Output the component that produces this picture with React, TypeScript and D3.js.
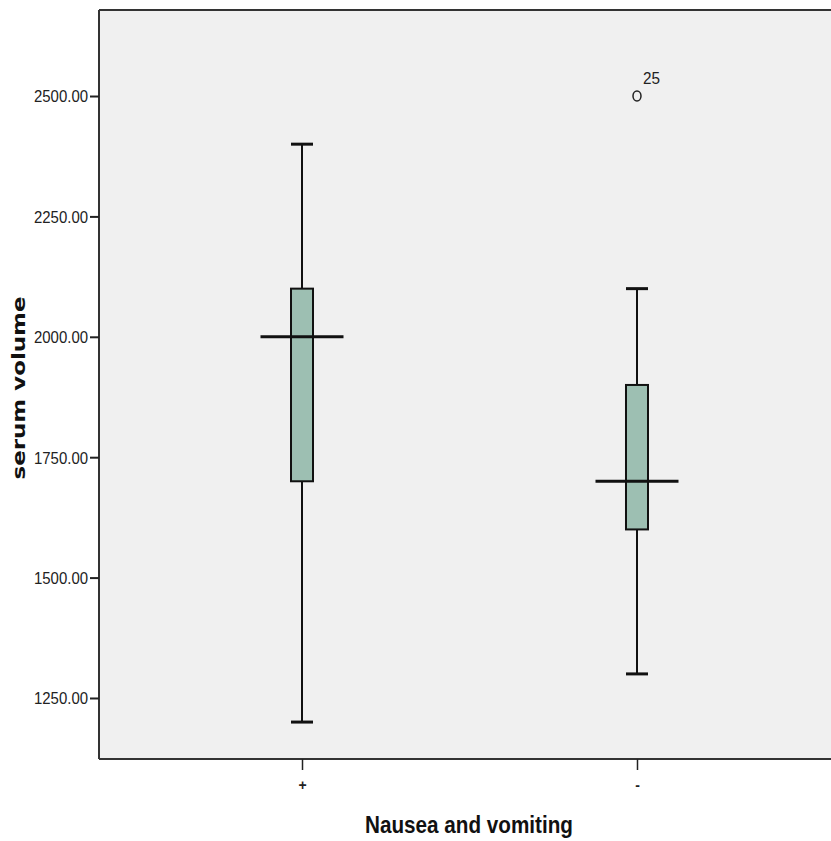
import React, { useEffect, useRef } from 'react';
import * as d3 from 'd3';

// groups on the x axis
const groups = ['+', '-'];
// five-number summaries per group
const mins = [1200, 1300];
const q1s = [1700, 1600];
const medians = [2000, 1700];
const q3s = [2100, 1900];
const maxs = [2400, 2100];
// outliers
const outlierGroup = ['-'];
const outlierValue = [2500];
const outlierLabel = ['25'];
const yTicks = [1250, 1500, 1750, 2000, 2250, 2500];

const W = 831, H = 841;

const drawChart = (container: SVGSVGElement) => {
    d3.select(container).selectAll('*').remove();
    const svg = d3.select(container).attr('width', W).attr('height', H);

    const left = 99, top = 10, bottom = 759, right = 840;

    const y = d3.scaleLinear().domain([1123.3, 2678.6]).range([bottom, top]);
    const x = d3.scalePoint<string>().domain(groups).range([left, right]).padding(0.606);

    svg.append('rect')
        .attr('x', left).attr('y', top)
        .attr('width', right - left).attr('height', bottom - top)
        .attr('fill', '#f0f0f0');

    // frame lines
    svg.append('line').attr('x1', left).attr('x2', right).attr('y1', top).attr('y2', top)
        .attr('stroke', '#333').attr('stroke-width', 2);
    svg.append('line').attr('x1', left).attr('x2', left).attr('y1', top).attr('y2', bottom)
        .attr('stroke', '#333').attr('stroke-width', 2);
    svg.append('line').attr('x1', left).attr('x2', right).attr('y1', bottom).attr('y2', bottom)
        .attr('stroke', '#333').attr('stroke-width', 2);

    // y axis
    const yAxis = svg.append('g')
        .attr('transform', `translate(${left},0)`)
        .call(d3.axisLeft(y).tickValues(yTicks).tickSize(9).tickFormat(d3.format('.2f')));
    yAxis.select('.domain').remove();
    yAxis.selectAll('line').attr('stroke', '#222').attr('stroke-width', 2);
    yAxis.selectAll('text')
        .attr('x', -11)
        .attr('dy', '0.35em')
        .attr('textLength', 54)
        .attr('lengthAdjust', 'spacingAndGlyphs')
        .style('font-family', '"Liberation Sans", Arial, sans-serif')
        .style('font-size', '17px')
        .attr('fill', '#222');

    // x axis
    const xAxis = svg.append('g')
        .attr('transform', `translate(0,${bottom})`)
        .call(d3.axisBottom(x).tickSize(11).tickPadding(10));
    xAxis.select('.domain').remove();
    xAxis.selectAll('line').attr('stroke', '#222').attr('stroke-width', 1.5);
    xAxis.selectAll('text')
        .style('font-family', '"Liberation Sans", Arial, sans-serif')
        .style('font-size', '14px')
        .style('font-weight', 'bold')
        .attr('fill', '#222');

    const boxW = 22, capW = 22, medW = 83;

    groups.forEach((g, i) => {
        const cx = x(g) as number;
        const gr = svg.append('g');
        // whiskers
        gr.append('line').attr('x1', cx).attr('x2', cx)
            .attr('y1', y(maxs[i])).attr('y2', y(q3s[i]))
            .attr('stroke', '#111').attr('stroke-width', 2);
        gr.append('line').attr('x1', cx).attr('x2', cx)
            .attr('y1', y(q1s[i])).attr('y2', y(mins[i]))
            .attr('stroke', '#111').attr('stroke-width', 2);
        // caps
        [maxs[i], mins[i]].forEach(v => {
            gr.append('line').attr('x1', cx - capW / 2).attr('x2', cx + capW / 2)
                .attr('y1', y(v)).attr('y2', y(v))
                .attr('stroke', '#111').attr('stroke-width', 3);
        });
        // box
        gr.append('rect')
            .attr('x', cx - boxW / 2).attr('y', y(q3s[i]))
            .attr('width', boxW).attr('height', y(q1s[i]) - y(q3s[i]))
            .attr('fill', '#9dbfb2').attr('stroke', '#111').attr('stroke-width', 2);
        // median
        gr.append('line').attr('x1', cx - medW / 2).attr('x2', cx + medW / 2)
            .attr('y1', y(medians[i])).attr('y2', y(medians[i]))
            .attr('stroke', '#111').attr('stroke-width', 3);
    });

    outlierValue.forEach((v, i) => {
        const cx = x(outlierGroup[i]) as number;
        svg.append('ellipse')
            .attr('cx', cx).attr('cy', y(v))
            .attr('rx', 4).attr('ry', 5)
            .attr('fill', 'none').attr('stroke', '#222').attr('stroke-width', 1.5);
        svg.append('text')
            .attr('x', cx + 6).attr('y', y(v) - 12)
            .text(outlierLabel[i])
            .attr('textLength', 17)
            .attr('lengthAdjust', 'spacingAndGlyphs')
            .style('font-family', '"Liberation Sans", Arial, sans-serif')
            .style('font-size', '16px')
            .attr('fill', '#222');
    });

    // axis titles
    svg.append('text')
        .attr('x', 469).attr('y', 833)
        .attr('text-anchor', 'middle')
        .text('Nausea and vomiting')
        .attr('textLength', 208)
        .attr('lengthAdjust', 'spacingAndGlyphs')
        .style('font-family', '"Liberation Sans", Arial, sans-serif')
        .style('font-size', '24px')
        .style('font-weight', 'bold')
        .attr('fill', '#111');

    svg.append('text')
        .attr('transform', `translate(25,388) rotate(-90)`)
        .attr('text-anchor', 'middle')
        .text('serum volume')
        .attr('textLength', 183)
        .attr('lengthAdjust', 'spacingAndGlyphs')
        .style('font-family', '"DejaVu Sans", Verdana, sans-serif')
        .style('font-size', '18px')
        .style('font-weight', 'bold')
        .attr('fill', '#111');
};

const App = () => {
    const ref = useRef<SVGSVGElement>(null);

    useEffect(() => {
        document.body.style.margin = '0';
        if (ref.current) {
            drawChart(ref.current);
        }
    }, []);

    return (
        <div>
            <svg ref={ref} style={{ display: 'block', background: '#fff' }} />
        </div>
    );
};

export default App;
